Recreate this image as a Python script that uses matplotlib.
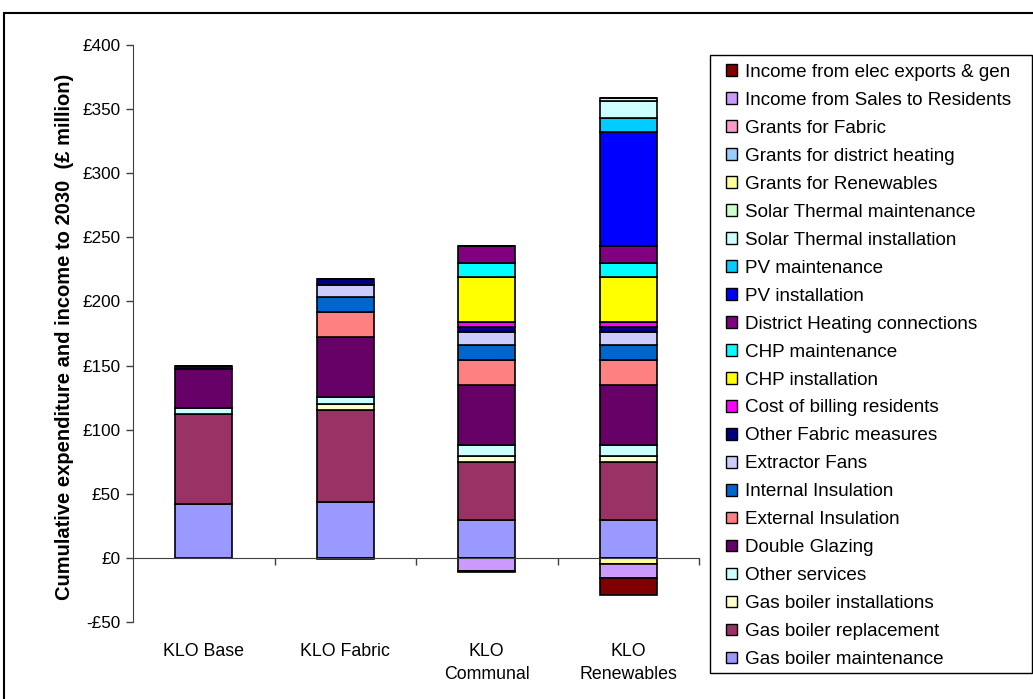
"""
Cumulative expenditure and income to 2030 for the KLO scenarios,
drawn as stacked bars (costs above zero, grants and income below).
"""

import matplotlib
matplotlib.use("Agg")
import matplotlib.pyplot as plt
from matplotlib.patches import Patch, Rectangle
from matplotlib.ticker import FuncFormatter
import numpy as np

plt.rcParams["font.family"] = ["Liberation Sans", "DejaVu Sans"]

scenarios = ["KLO Base", "KLO Fabric", "KLO\nCommunal", "KLO\nRenewables"]

# Series in stacking order (bottom to top), values in £ million
series_names = [
    "Gas boiler maintenance",
    "Gas boiler replacement",
    "Gas boiler installations",
    "Other services",
    "Double Glazing",
    "External Insulation",
    "Internal Insulation",
    "Extractor Fans",
    "Other Fabric measures",
    "Cost of billing residents",
    "CHP installation",
    "CHP maintenance",
    "District Heating connections",
    "PV installation",
    "PV maintenance",
    "Solar Thermal installation",
    "Solar Thermal maintenance",
    "Grants for Renewables",
    "Grants for district heating",
    "Grants for Fabric",
    "Income from Sales to Residents",
    "Income from elec exports & gen",
]

gas_boiler_maintenance = [42.3, 43.3, 29.3, 29.3]
gas_boiler_replacement = [69.6, 72.2, 45.2, 45.2]
gas_boiler_installations = [0, 4.7, 5.2, 5.2]
other_services = [4.7, 4.9, 8.0, 8.0]
double_glazing = [31.1, 47.1, 47.3, 47.3]
external_insulation = [0, 19.2, 19.3, 19.3]
internal_insulation = [0, 12.0, 12.1, 12.1]
extractor_fans = [0, 9.5, 9.4, 9.4]
other_fabric = [1.6, 4.5, 4.2, 4.2]
cost_of_billing = [0, 0, 4.3, 4.3]
chp_installation = [0, 0, 35.1, 35.1]
chp_maintenance = [0, 0, 10.9, 10.9]
dh_connections = [0, 0, 13.0, 13.0]
pv_installation = [0, 0, 0, 89.1]
pv_maintenance = [0, 0, 0, 10.9]
solar_installation = [0, 0, 0, 13.2]
solar_maintenance = [0, 0, 0, 2.4]
grants_renewables = [0, 0, 0, -5.0]
grants_district_heating = [0, 0, 0, 0]
grants_fabric = [0, -1.2, 0, 0]
income_sales = [0, 0, -10.0, -10.3]
income_elec = [0, 0, -0.8, -13.5]

series_values = [
    gas_boiler_maintenance, gas_boiler_replacement, gas_boiler_installations,
    other_services, double_glazing, external_insulation, internal_insulation,
    extractor_fans, other_fabric, cost_of_billing, chp_installation,
    chp_maintenance, dh_connections, pv_installation, pv_maintenance,
    solar_installation, solar_maintenance, grants_renewables,
    grants_district_heating, grants_fabric, income_sales, income_elec,
]

series_colors = [
    "#9999FF", "#993366", "#FFFFCC", "#CCFFFF", "#660066", "#FF8080",
    "#0066CC", "#CCCCFF", "#000080", "#FF00FF", "#FFFF00", "#00FFFF",
    "#800080", "#0000FF", "#00CCFF", "#CCFFFF", "#CCFFCC", "#FFFF99",
    "#99CCFF", "#FF99CC", "#CC99FF", "#800000",
]

W, H = 1033, 699
fig = plt.figure(figsize=(W / 100, H / 100), dpi=100)
ax = fig.add_axes([133 / W, 1 - 622 / H, 566 / W, 577 / H])

x = np.arange(len(scenarios))
pos_base = np.zeros(len(scenarios))
neg_base = np.zeros(len(scenarios))
for name, vals, color in zip(series_names, series_values, series_colors):
    vals = np.array(vals, dtype=float)
    bottom = np.where(vals >= 0, pos_base, neg_base)
    ax.bar(x, vals, 0.4, bottom=bottom, color=color, edgecolor="black",
           linewidth=1.2, zorder=2)
    pos_base += np.clip(vals, 0, None)
    neg_base += np.clip(vals, None, 0)

ax.set_xlim(-0.5, 3.5)
ax.set_ylim(-50, 400)
ax.set_yticks(np.arange(-50, 401, 50))
ax.yaxis.set_major_formatter(
    FuncFormatter(lambda v, _: f"-£{abs(v):.0f}" if v < 0 else f"£{v:.0f}"))
ax.tick_params(axis="y", direction="out", length=5, width=1, color="#404040",
               pad=4, labelsize=12.3)

# category axis sits on the zero line, with ticks between the bars
ax.spines["bottom"].set_position(("data", 0))
ax.spines["bottom"].set_color("#404040")
ax.spines["left"].set_color("#404040")
ax.spines["top"].set_visible(False)
ax.spines["right"].set_visible(False)
ax.set_xticks(x)
ax.set_xticklabels([])
ax.tick_params(axis="x", which="major", length=0)
ax.set_xticks(np.arange(0.5, 3.6, 1), minor=True)
ax.tick_params(axis="x", which="minor", direction="out", length=5, width=1,
               color="#404040")

for xi, label in zip(x, scenarios):
    ax.text(xi, -0.037, label, transform=ax.get_xaxis_transform(),
            ha="center", va="top", fontsize=12.8, linespacing=1.45)

ax.set_ylabel("Cumulative expenditure and income to 2030  (£ million)",
              fontsize=14.5, fontweight="bold")
ax.yaxis.set_label_coords(-0.105, 0.495)

# legend lists the series top-down, in reverse stacking order
handles = [Patch(facecolor=c, edgecolor="black", linewidth=1)
           for c in series_colors][::-1]
fig.legend(handles, series_names[::-1], loc="upper left",
           bbox_to_anchor=(726 / W, 1 - 64 / H), frameon=False,
           borderpad=0, borderaxespad=0, fontsize=13.6, handlelength=0.58,
           handleheight=0.58, handletextpad=0.45, labelspacing=0.58)
fig.patches.append(Rectangle((710 / W, 1 - 673 / H), 322 / W, 618 / H,
                             transform=fig.transFigure, fill=False,
                             edgecolor="black", linewidth=1))

# chart area border
fig.patches.append(Rectangle((4 / W, -0.05), 1.1, 1.05 - 13 / H,
                             transform=fig.transFigure, fill=False,
                             edgecolor="black", linewidth=1.5))

fig.savefig("out.png", dpi=100)
